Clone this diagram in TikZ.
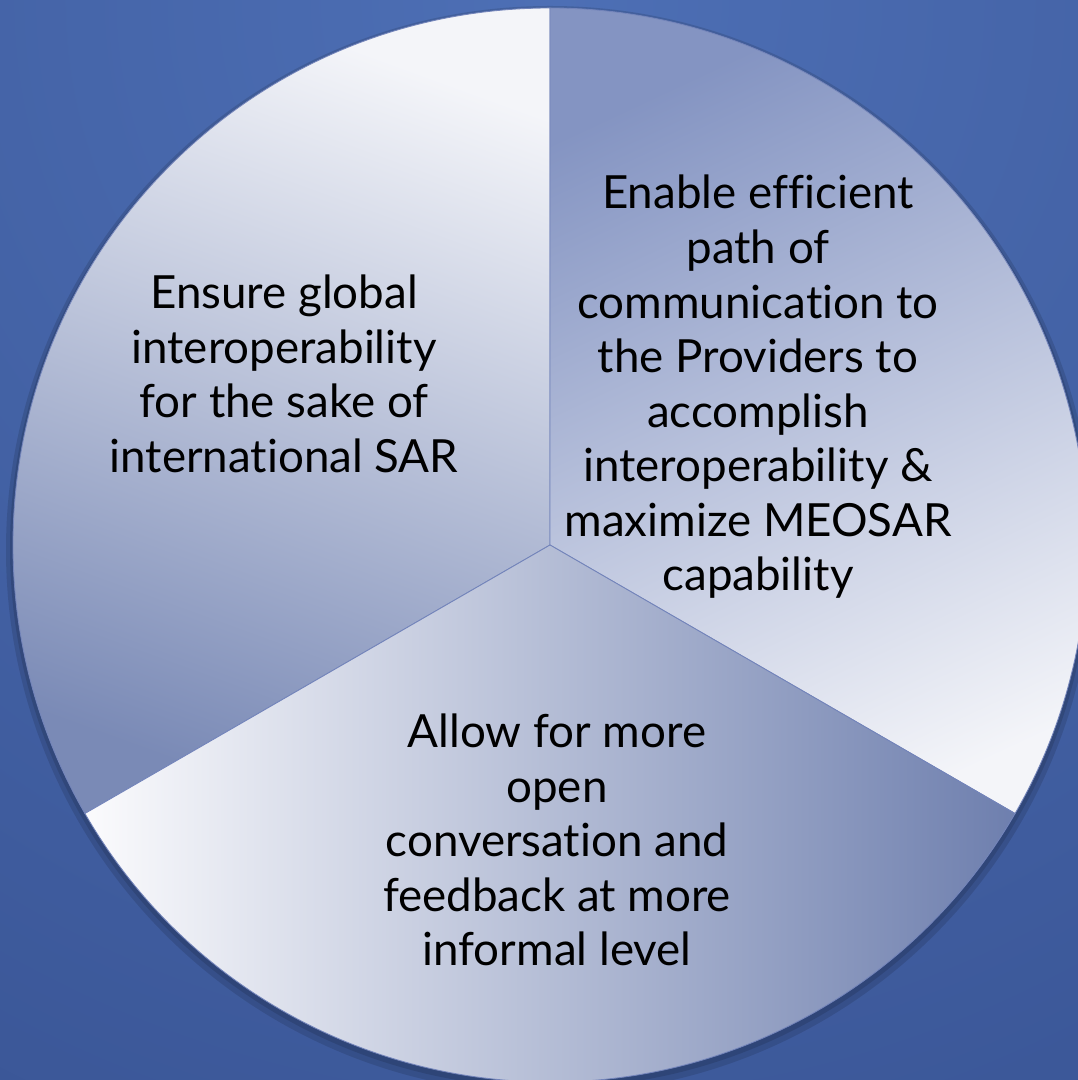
\documentclass[tikz,border=0pt]{standalone}
\usepackage{fontspec}
\setmainfont{Lato}[Ligatures={NoCommon}]

\definecolor{bgtop}{HTML}{4D6FB5}
\definecolor{bgbottom}{HTML}{2A407C}
\definecolor{sliceline}{HTML}{7384BA}
\definecolor{palewhite}{HTML}{F4F5F9}
\definecolor{palewhiteb}{HTML}{FBFBFD}
\definecolor{slateblue}{HTML}{7A8AB6}
\definecolor{slatebluer}{HTML}{8494C2}
\definecolor{slatebluel}{HTML}{6E7FAE}

\tikzset{
   slice/.style={draw=sliceline, line width=0.6pt},
   leftshade/.style={top color=palewhite, bottom color=slateblue, shading angle=-20},
   rightshade/.style={top color=slatebluer, bottom color=palewhite, shading angle=25},
   bottomshade/.style={left color=palewhiteb, right color=slatebluel},
   slicetext/.style={align=center, text=black, font=\fontsize{32.5}{38.8}\selectfont}
}

\begin{document}
\begin{tikzpicture}[x=0.025cm, y=0.025cm]
      \useasboundingbox (0,0) rectangle (1078,1080);
      % background
      \begin{scope}
         \clip (0,0) rectangle (1078,1080);
         \shade[inner color=bgtop, outer color=bgbottom] (550,1080) circle (2400);
         % soft shadow under the pie
         \fill[black, opacity=0.12] (550,530) circle (544);
         \fill[black, opacity=0.12] (550,532) circle (540);
      \end{scope}
      \coordinate (o) at (550,535);
      % the three slices
      \def \Slices {
         90/210/leftshade,
         330/450/rightshade,
         210/330/bottomshade}
      \foreach \s / \e / \sh in \Slices {
         \shade[slice, \sh]
            (o) -- ++(\s:537) arc[start angle=\s, end angle=\e, radius=537] -- cycle;
      }
      \node[slicetext] (ensure) at (284,706)
         {Ensure global\\interoperability\\for the sake of\\international SAR};
      \node[slicetext] (enable) at (758,693)
         {Enable efficient\\path of\\communication to\\the Providers to\\accomplish\\interoperability \&\\maximize MEOSAR\\capability};
      \node[slicetext] (allow) at (557,240)
         {Allow for more\\open\\conversation and\\feedback at more\\informal level};
   \end{tikzpicture}
\end{document}
